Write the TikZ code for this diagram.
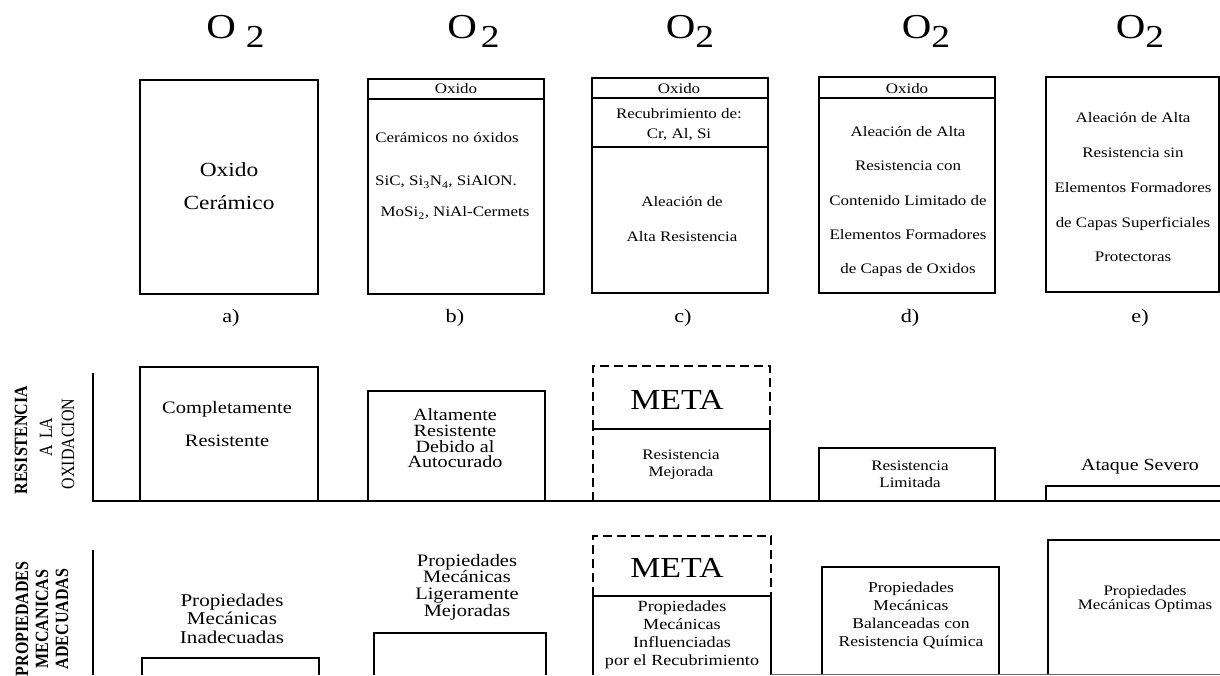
\documentclass[tikz,border=0pt]{standalone}
\usepackage{fontspec}
\setmainfont{Liberation Serif}[FakeStretch=1.17]
% axis captions run upwards: condensed along the line, tall across it
\newfontfamily\axisfont{Liberation Serif}[FakeStretch=0.855]
% size and leading in one go, lines may sit closer than the font size
\newcommand\setfs[2]{\fontsize{#1pt}{#2pt}\selectfont\lineskiplimit=-100pt\relax}
\begin{document}
\begin{tikzpicture}[x=1pt,y=-1pt,
  frame/.style={line width=1.3pt},
  goal/.style={line width=1.3pt,dash pattern=on 9pt off 5pt},
  axisline/.style={line width=1.3pt},
  lbl/.style={inner sep=0pt,align=center},
  gas/.style={inner sep=0pt,anchor=base},
  caption/.style={inner sep=0pt,font=\setfs{19}{19}},
  band/.style={inner sep=0pt,font=\setfs{14.5}{14.5}},
  axislbl/.style={inner sep=0pt,rotate=90},
]
\useasboundingbox (0,0) rectangle (1220,675);

% ---------- oxygen labels ----------
\node[gas] (o2a) at (235.5,38.5) {\setfs{35}{35}O\hspace{10pt}\raisebox{-9pt}{\setfs{32}{32}2}};
\node[gas] (o2b) at (473.5,38.5) {\setfs{35}{35}O\hspace{4pt}\raisebox{-9pt}{\setfs{32}{32}2}};
\node[gas] (o2c) at (690,38.5) {\setfs{35}{35}O\raisebox{-9pt}{\setfs{32}{32}2}};
\node[gas] (o2d) at (926,38.5) {\setfs{35}{35}O\raisebox{-9pt}{\setfs{32}{32}2}};
\node[gas] (o2e) at (1140,38.5) {\setfs{35}{35}O\raisebox{-9pt}{\setfs{32}{32}2}};

% ---------- material cross sections ----------
% a) oxide ceramic
\draw[frame] (140,80) rectangle (318,294);
\node[lbl,font=\setfs{20}{33}] (ma) at (229,186.5) {Oxido\\Cerámico};
% b) non-oxide ceramics
\draw[frame] (368,79) rectangle (544,294);
\draw[frame] (368,99) -- (544,99);
\node[band] (oxb) at (456,89) {Oxido};
\node[lbl,font=\setfs{14.5}{14.5}] (mb1) at (447,138) {Cerámicos no óxidos};
\node[lbl,font=\setfs{14.5}{14.5}] (mb2) at (446,182) {SiC, Si\textsubscript{3}N\textsubscript{4}, SiAlON.};
\node[lbl,font=\setfs{14.5}{14.5}] (mb3) at (455,213) {MoSi\textsubscript{2}, NiAl-Cermets};
% c) coated alloy
\draw[frame] (592,78) rectangle (768,293);
\draw[frame] (592,98) -- (768,98);
\draw[frame] (592,147) -- (768,147);
\node[band] (oxc) at (679,89) {Oxido};
\node[lbl,font=\setfs{14.5}{20}] (mc1) at (679,125) {Recubrimiento de:\\Cr, Al, Si};
\node[lbl,font=\setfs{14.5}{35}] (mc2) at (682,219.5) {Aleación de\\Alta Resistencia};
% d) alloy with limited scale formers
\draw[frame] (819,77) rectangle (995,293);
\draw[frame] (819,98) -- (995,98);
\node[band] (oxd) at (907,89) {Oxido};
\node[lbl,font=\setfs{14.5}{34.25}] (md) at (908,201.5)
  {Aleación de Alta\\Resistencia con\\Contenido Limitado de\\Elementos Formadores\\de Capas de Oxidos};
% e) alloy without protective scale formers
\draw[frame] (1046,77) rectangle (1219,292);
\node[lbl,font=\setfs{14.5}{34.75}] (me) at (1133,187.5)
  {Aleación de Alta\\Resistencia sin\\Elementos Formadores\\de Capas Superficiales\\Protectoras};

\node[caption] (ca) at (231,318) {a)};
\node[caption] (cb) at (455,318) {b)};
\node[caption] (cc) at (683,318) {c)};
\node[caption] (cd) at (910,318) {d)};
\node[caption] (ce) at (1140,318) {e)};

% ---------- oxidation resistance chart ----------
\node[axislbl,font=\axisfont\setfs{18.7}{18.7}\bfseries] (r1) at (21,440) {RESISTENCIA};
\node[axislbl,font=\axisfont\setfs{18.7}{18.7}] (r2) at (46,437) {A\hspace{6pt}LA};
\node[axislbl,font=\axisfont\setfs{18.7}{18.7}] (r3) at (68,444) {OXIDACION};
\draw[axisline] (93,373) -- (93,501) -- (1220,501);

\draw[frame] (140,501) -- (140,367) -- (318,367) -- (318,501);
\node[lbl,font=\setfs{17.5}{33}] (ra) at (227,424.5) {Completamente\\Resistente};

\draw[frame] (368,501) -- (368,391) -- (545,391) -- (545,501);
\node[lbl,font=\setfs{17.2}{15.7}] (rb) at (455,438.5) {Altamente\\Resistente\\Debido al\\Autocurado};

\draw[goal] (593,429) -- (593,366) -- (770,366) -- (770,429);
\draw[goal] (593,501) -- (593,429);
\draw[frame] (593,429) -- (770,429) -- (770,501);
\node[lbl,font=\setfs{29}{29}] (rgoal) at (677,400) {META};
\node[lbl,font=\setfs{14.5}{17}] (rc) at (681,464.5) {Resistencia\\Mejorada};

\draw[frame] (819,501) -- (819,448) -- (995,448) -- (995,501);
\node[lbl,font=\setfs{14.5}{17}] (rd) at (910,474.5) {Resistencia\\Limitada};

\draw[frame] (1046,501) -- (1046,486) -- (1220,486);
\node[lbl,font=\setfs{17}{17}] (re) at (1140,467) {Ataque Severo};

% ---------- mechanical properties chart ----------
\node[axislbl,font=\axisfont\setfs{18.7}{18.7}\bfseries] (p1) at (22,619) {PROPIEDADES};
\node[axislbl,font=\axisfont\setfs{18.7}{18.7}\bfseries] (p2) at (42,619) {MECANICAS};
\node[axislbl,font=\axisfont\setfs{18.7}{18.7}\bfseries] (p3) at (62,619) {ADECUADAS};
\draw[axisline] (93,550) -- (93,675);

\draw[frame] (142,675) -- (142,658) -- (319,658) -- (319,675);
\node[lbl,font=\setfs{18}{18.5}] (pa) at (232,618.5) {Propiedades\\Mecánicas\\Inadecuadas};

\draw[frame] (374,675) -- (374,633) -- (546,633) -- (546,675);
\node[lbl,font=\setfs{17.5}{16.7}] (pb) at (467,587) {Propiedades\\Mecánicas\\Ligeramente\\Mejoradas};

\draw[goal] (593,596) -- (593,536) -- (771,536) -- (771,596);
\draw[frame] (593,675) -- (593,596) -- (771,596) -- (771,675);
\node[lbl,font=\setfs{29}{29}] (pgoal) at (677,568) {META};
\node[lbl,font=\setfs{15.5}{18}] (pc) at (682,635) {Propiedades\\Mecánicas\\Influenciadas\\por el Recubrimiento};

\draw[frame] (822,675) -- (822,567) -- (999,567) -- (999,675);
\node[lbl,font=\setfs{15}{18.3}] (pd) at (911,615.5) {Propiedades\\Mecánicas\\Balanceadas con\\Resistencia Química};

\draw[frame] (1048,675) -- (1048,540) -- (1220,540);
\node[lbl,font=\setfs{14.5}{14.5}] (pe) at (1145,599) {Propiedades\\Mecánicas Optimas};

\draw[line width=1pt,black!60] (771,674) -- (1220,674);
\end{tikzpicture}
\end{document}
